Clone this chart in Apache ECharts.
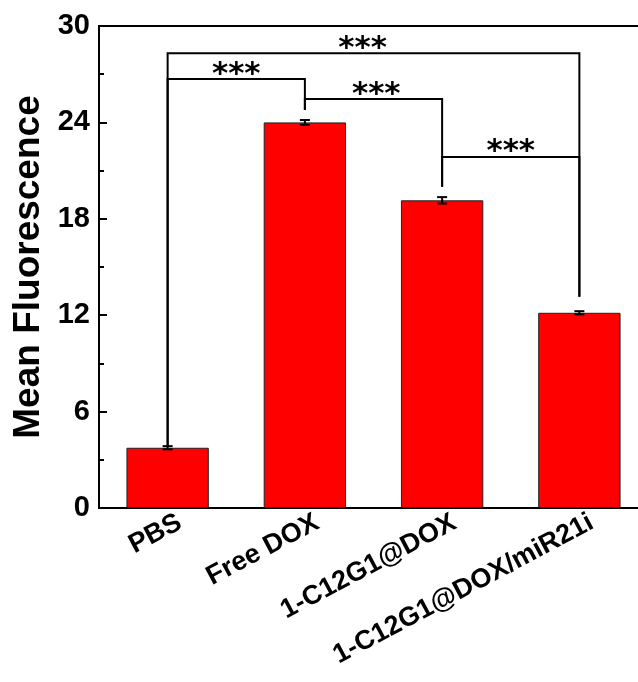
<!DOCTYPE html>
<html>
<head>
<meta charset="utf-8">
<script src="https://cdn.jsdelivr.net/npm/echarts@6/dist/echarts.min.js"></script>
<style>
  html, body { margin: 0; padding: 0; background: #fff; }
  #chart { width: 638px; height: 682px; }
</style>
</head>
<body>
<div id="chart"></div>
<script>
// Mean fluorescence per treatment group
const categories = ['PBS', 'Free DOX', '1-C12G1@DOX', '1-C12G1@DOX/miR21i'];
const meanValues = [3.75, 24.0, 19.15, 12.15];
const errorValues = [0.1, 0.15, 0.2, 0.1];
const yTicks = [0, 6, 12, 18, 24, 30];

// Significance brackets (group indices, bracket level, where each leg stops, label x)
const bracketFrom = [0, 0, 1, 2];
const bracketTo = [1, 3, 2, 3];
const bracketHeight = [26.7, 28.3, 25.45, 21.85];
const bracketLeftEnd = [3.85, 3.85, 24.77, 20.0];
const bracketRightEnd = [24.77, 13.15, 20.0, 13.15];
const bracketLabelX = [0.5, 1.42, 1.52, 2.5];
const bracketLabels = ['***', '***', '***', '***'];

const FONT = '"Liberation Sans", Arial, sans-serif';
const chart = echarts.init(document.getElementById('chart'), null, { renderer: 'canvas' });

const errorData = meanValues.map((v, i) => [i, v - errorValues[i], v + errorValues[i]]);
const bracketData = bracketFrom.map((f, i) => [
  f, bracketTo[i], bracketHeight[i], bracketLeftEnd[i], bracketRightEnd[i], bracketLabelX[i]
]);

const option = {
  animation: false,
  backgroundColor: '#fff',
  grid: {
    left: 99, right: -10, top: 26, bottom: 174,
    containLabel: false,
    outerBoundsMode: 'none',
    show: true,
    borderColor: '#000',
    borderWidth: 2
  },
  xAxis: [
    {
      type: 'category',
      data: categories,
      axisLine: { lineStyle: { color: '#000', width: 2 } },
      axisTick: { alignWithLabel: true, inside: true, length: 8, lineStyle: { color: '#000', width: 2 } },
      axisLabel: { show: false },
      splitLine: { show: false }
    },
    {
      type: 'value',
      min: -0.5,
      max: 3.5,
      show: false
    }
  ],
  yAxis: {
    type: 'value',
    min: yTicks[0],
    max: yTicks[yTicks.length - 1],
    interval: yTicks[1] - yTicks[0],
    name: 'Mean Fluorescence',
    nameLocation: 'middle',
    nameGap: 50,
    nameTextStyle: { fontFamily: FONT, fontWeight: 'bold', fontSize: 37, color: '#000' },
    axisLine: { show: true, onZero: false, lineStyle: { color: '#000', width: 2 } },
    axisTick: { inside: true, length: 8, lineStyle: { color: '#000', width: 2 } },
    minorTick: { show: true, splitNumber: 2, length: 5, lineStyle: { color: '#000', width: 2 } },
    axisLabel: { margin: 9, fontFamily: FONT, fontWeight: 'bold', fontSize: 29, color: '#000' },
    splitLine: { show: false }
  },
  series: [
    {
      type: 'bar',
      data: meanValues,
      barWidth: '60%',
      itemStyle: { color: '#FF0000', borderColor: '#222', borderWidth: 1 },
      z: 2
    },
    {
      // error bars
      type: 'custom',
      xAxisIndex: 0,
      data: errorData,
      z: 3,
      renderItem: function (params, api) {
        const x = api.value(0);
        const lo = api.coord([x, api.value(1)]);
        const hi = api.coord([x, api.value(2)]);
        const half = 5;
        const st = { stroke: '#000', lineWidth: 2 };
        return {
          type: 'group',
          children: [
            { type: 'line', shape: { x1: lo[0], y1: lo[1], x2: hi[0], y2: hi[1] }, style: st },
            { type: 'line', shape: { x1: lo[0] - half, y1: lo[1], x2: lo[0] + half, y2: lo[1] }, style: st },
            { type: 'line', shape: { x1: hi[0] - half, y1: hi[1], x2: hi[0] + half, y2: hi[1] }, style: st }
          ]
        };
      }
    },
    {
      // significance brackets
      type: 'custom',
      xAxisIndex: 1,
      data: bracketData,
      z: 4,
      renderItem: function (params, api) {
        const a = api.value(0), b = api.value(1), h = api.value(2);
        const p1 = api.coord([a, api.value(3)]);
        const p2 = api.coord([a, h]);
        const p3 = api.coord([b, h]);
        const p4 = api.coord([b, api.value(4)]);
        const lp = api.coord([api.value(5), h]);
        return {
          type: 'group',
          children: [
            {
              type: 'polyline',
              shape: { points: [p1, p2, p3, p4] },
              style: { stroke: '#000', lineWidth: 2, fill: null }
            },
            {
              type: 'text',
              x: lp[0],
              y: lp[1] + 11,
              style: {
                text: bracketLabels[params.dataIndex],
                fill: '#000',
                font: 'bold 31px "DejaVu Sans", sans-serif',
                align: 'center',
                verticalAlign: 'bottom'
              }
            }
          ]
        };
      }
    },
    {
      // rotated category labels
      type: 'custom',
      xAxisIndex: 0,
      data: categories.map((c, i) => [i, 0]),
      z: 5,
      clip: false,
      renderItem: function (params, api) {
        const p = api.coord([api.value(0), 0]);
        return {
          type: 'text',
          x: p[0] + 6,
          y: p[1] + 1,
          rotation: 28 * Math.PI / 180,
          style: {
            text: categories[params.dataIndex],
            fill: '#000',
            font: 'bold 27px ' + FONT,
            align: 'right',
            verticalAlign: 'top'
          }
        };
      }
    }
  ]
};

chart.setOption(option);
</script>
</body>
</html>
